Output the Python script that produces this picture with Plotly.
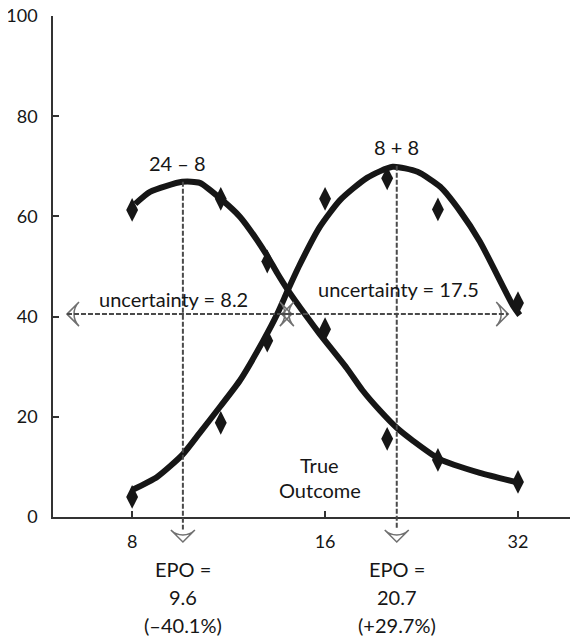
import math
import plotly.graph_objects as go

# ---------------- data ----------------
# observed points (x = true outcome scale, log2 spaced)
pt_x = [8, 11, 13, 16, 20, 24, 32]
pts_24_8 = [61.3, 63.5, 51.0, 37.5, 15.6, 11.4, 7.0]
pts_8_8 = [4.0, 18.8, 35.2, 63.5, 67.6, 61.4, 42.7]

# fitted curves
fit_24_8_x = [8.09, 8.53, 9.58, 10.2, 11.0, 11.79, 12.53, 13.03, 13.47, 14.0, 15.0, 15.7,
              17.3, 18.3, 19.5, 20.7, 21.95, 24.1, 27.9, 32.2]
fit_24_8_y = [62.5, 64.9, 66.9, 66.7, 63.5, 59.9, 55.3, 51.9, 48.7, 45.3, 39.9, 36.5,
              29.7, 25.3, 21.2, 17.8, 15.2, 11.6, 8.8, 6.8]
fit_8_8_x = [8.0, 8.75, 9.58, 10.2, 10.97, 11.79, 12.8, 13.47, 14.0, 14.6, 15.7, 16.9,
             18.6, 20.4, 22.3, 24.2, 26.0, 27.9, 31.4, 32.2]
fit_8_8_y = [5.4, 8.0, 12.4, 16.8, 22.0, 27.3, 35.1, 40.5, 45.3, 50.3, 57.9, 63.3,
             67.7, 69.9, 68.9, 65.9, 61.0, 55.0, 42.3, 40.3]

# EPO (estimated peak outcome) and peak heights
epo_x = [9.6, 20.7]
epo_peak = [66.9, 70.1]
epo_text = [["EPO =", "9.6", "(\u201340.1%)"], ["EPO =", "20.7", "(+29.7%)"]]
curve_labels = ["24 \u2013 8", "8 + 8"]

# uncertainty ranges (horizontal double arrows)
unc_level = 40.5
unc_ranges = [[6.33, 14.2], [13.7, 30.9]]
unc_text = ["uncertainty = 8.2", "uncertainty = 17.5"]

x_ticks = [8, 16, 32]
y_ticks = [0, 20, 40, 60, 80, 100]
arrow_tip_y = -5.0

FONT = "Lato"
INK = "#161616"
DASH = "#4a4a4a"
HEAD = "#707070"

# ---------------- layout geometry ----------------
W, H = 578, 636
M_T, M_B, M_L, M_R = 8, 84, 45, 8
plot_h = H - M_T - M_B
main_h = 501                      # pixel height of the 0..100 range
d = 1 - main_h / plot_h           # bottom of main y domain (paper)
y2_lo = -100 * d / (1 - d)        # value of the extended axis at paper 0


def to_paper(v):
    return d + (1 - d) * v / 100


fig = go.Figure()

# fitted curves
for fx, fy in [(fit_24_8_x, fit_24_8_y), (fit_8_8_x, fit_8_8_y)]:
    fig.add_trace(go.Scatter(x=fx, y=fy, mode="lines",
                             line=dict(color=INK, width=6, shape="spline", smoothing=0.6),
                             hoverinfo="skip", showlegend=False))

# observed points
for py in [pts_24_8, pts_8_8]:
    fig.add_trace(go.Scatter(x=pt_x, y=py, mode="markers",
                             marker=dict(symbol="diamond-tall", size=17, color=INK),
                             showlegend=False))

# horizontal dashed uncertainty lines
for r in unc_ranges:
    fig.add_shape(type="line", xref="x", yref="y", x0=r[0], x1=r[1], y0=unc_level, y1=unc_level,
                  line=dict(color=DASH, width=2, dash="5px,2px"))

# vertical dashed EPO lines on the extended (hidden) axis so they run below the x axis
for ex, ep in zip(epo_x, epo_peak):
    fig.add_shape(type="line", xref="x", yref="y2", x0=ex, x1=ex, y0=ep, y1=arrow_tip_y + 2.5,
                  line=dict(color=DASH, width=2, dash="5px,2px"))

# arrowheads (open), drawn on the extended axis
ah_x, ah_y, ah_ang = [], [], []
for ex in epo_x:
    ah_x.append(ex); ah_y.append(arrow_tip_y); ah_ang.append(180)
for r in unc_ranges:
    ah_x += [r[0], r[1]]; ah_y += [unc_level, unc_level]; ah_ang += [270, 90]
fig.add_trace(go.Scatter(x=ah_x, y=ah_y, yaxis="y2", mode="markers", cliponaxis=False,
                         marker=dict(symbol="arrow-wide-open", size=17, angle=ah_ang,
                                     color=HEAD, line=dict(color=HEAD, width=1.5)),
                         hoverinfo="skip", showlegend=False))


# text annotations
def txt(x, y, s):
    fig.add_annotation(x=math.log10(x), y=to_paper(y), xref="x", yref="paper", text=s, showarrow=False,
                       font=dict(family=FONT, size=20, color=INK), xanchor="center", yanchor="middle")


txt(9.4, 70.7, curve_labels[0])
txt(20.7, 73.9, curve_labels[1])
txt(9.29, 43.6, unc_text[0])
txt(20.8, 45.6, unc_text[1])
txt(15.7, 10.3, "True")
txt(15.7, 5.3, "Outcome")
for ex, lines in zip(epo_x, epo_text):
    for k, s in enumerate(lines):
        txt(ex, -10.4 - 5.55 * k, s)

fig.update_layout(
    width=W, height=H,
    margin=dict(l=M_L, r=M_R, t=M_T, b=M_B, autoexpand=False),
    paper_bgcolor="white", plot_bgcolor="rgba(0,0,0,0)",
    font=dict(family=FONT, size=18, color=INK),
    showlegend=False,
    yaxis2=dict(domain=[0, 1], anchor="x", range=[y2_lo, 100], visible=False, automargin=False),
)
fig.update_xaxes(type="log", range=[math.log10(6.02), math.log10(39.7)],
                 tickvals=x_ticks, ticktext=[str(v) for v in x_ticks],
                 ticks="inside", ticklen=6, tickwidth=1.5, tickcolor="#333",
                 showline=True, linecolor="#333", linewidth=1.5, showgrid=False, zeroline=False,
                 ticklabelstandoff=8, tickfont=dict(family=FONT, size=18, color=INK),
                 anchor="y", automargin=False)
fig.update_layout(yaxis=dict(domain=[d, 1], range=[0, 100], tickvals=y_ticks,
                             ticks="inside", ticklen=6, tickwidth=1.5, tickcolor="#333",
                             showline=True, linecolor="#333", linewidth=1.5, showgrid=False,
                             zeroline=False, ticklabelstandoff=10, ticklabeloverflow="allow",
                             automargin=False,
                             tickfont=dict(family=FONT, size=18, color=INK)))

fig.write_html("out.html")
